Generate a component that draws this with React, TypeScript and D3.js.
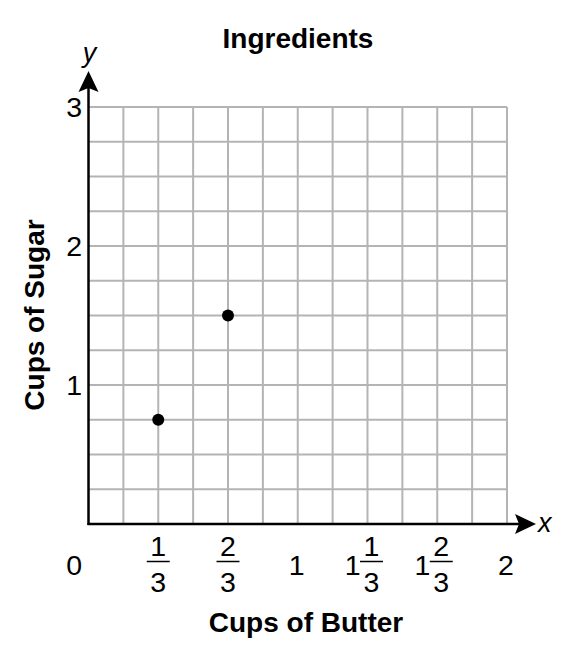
import React from "react";
import * as d3 from "d3";

const title = "Ingredients";
const xAxisTitle = "Cups of Butter";
const yAxisTitle = "Cups of Sugar";

const butter = [1 / 3, 2 / 3];
const sugar = [0.75, 1.5];

const xTickValues = [0, 1 / 3, 2 / 3, 1, 4 / 3, 5 / 3, 2];
const xTickWhole = ["0", "", "", "1", "1", "1", "2"];
const xTickNum = ["", "1", "2", "", "1", "2", ""];
const xTickDen = ["", "3", "3", "", "3", "3", ""];

const yTickValues = [1, 2, 3];
const yTickLabels = ["1", "2", "3"];

const W = 574;
const H = 652;
const FONT = "'Liberation Sans', Arial, Helvetica, sans-serif";

export default function App() {
  const x = d3.scaleLinear().domain([0, 2]).range([88.5, 507]);
  const y = d3.scaleLinear().domain([0, 3]).range([524, 107]);
  const xGrid = d3.range(1, 13).map((i) => i / 6);
  const yGrid = d3.range(1, 13).map((i) => i / 4);
  const x0 = x(0);
  const y0 = y(0);
  const grid = "#b4b4b4";
  const fs = 28.5;
  const tfs = 28;

  return (
    <svg
      width={W}
      height={H}
      style={{ position: "absolute", left: 0, top: 0, background: "#fff" }}
      fontFamily={FONT}
    >
      <rect width={W} height={H} fill="#fff" />
      <text x={298} y={48} textAnchor="middle" fontSize={tfs} fontWeight="bold">
        {title}
      </text>
      {xGrid.map((v, i) => (
        <line key={"vx" + i} x1={x(v)} x2={x(v)} y1={y(3)} y2={y0} stroke={grid} strokeWidth={2} />
      ))}
      {yGrid.map((v, i) => (
        <line key={"hy" + i} x1={x0} x2={x(2)} y1={y(v)} y2={y(v)} stroke={grid} strokeWidth={2} />
      ))}
      {/* axes */}
      <line x1={x0} x2={x0} y1={y0 + 1} y2={88} stroke="#000" strokeWidth={2.5} />
      <path d={`M${x0},71 L${x0 - 10},92 L${x0},88 L${x0 + 10},92 Z`} fill="#000" />
      <line x1={x0 - 1} x2={520} y1={y0} y2={y0} stroke="#000" strokeWidth={2.5} />
      <path d={`M536,${y0} L515,${y0 - 10} L519,${y0} L515,${y0 + 10} Z`} fill="#000" />
      <text x={x0 + 1} y={62} textAnchor="middle" fontSize={27} fontStyle="italic">
        y
      </text>
      <text x={538} y={532} fontSize={27} fontStyle="italic">
        x
      </text>
      {/* y tick labels */}
      {yTickValues.map((v, i) => (
        <text key={"yt" + i} x={82} y={y(v) + 10} textAnchor="end" fontSize={fs}>
          {yTickLabels[i]}
        </text>
      ))}
      {/* x tick labels */}
      {xTickValues.map((v, i) => {
        const cx = x(v);
        const whole = xTickWhole[i];
        const num = xTickNum[i];
        const den = xTickDen[i];
        if (v === 0) {
          return (
            <text key={"xt" + i} x={82} y={575} textAnchor="end" fontSize={fs}>
              {whole}
            </text>
          );
        }
        if (!num) {
          return (
            <text key={"xt" + i} x={cx - 1} y={575} textAnchor="middle" fontSize={fs}>
              {whole}
            </text>
          );
        }
        const fc = whole ? cx + 4 : cx;
        return (
          <g key={"xt" + i}>
            {whole && (
              <text x={fc - 11} y={575} textAnchor="end" fontSize={fs}>
                {whole}
              </text>
            )}
            <text x={fc} y={556} textAnchor="middle" fontSize={fs}>
              {num}
            </text>
            <line x1={fc - 11.5} x2={fc + 11.5} y1={561.5} y2={561.5} stroke="#000" strokeWidth={1.5} />
            <text x={fc} y={592} textAnchor="middle" fontSize={fs}>
              {den}
            </text>
          </g>
        );
      })}
      {/* points */}
      {butter.map((b, i) => (
        <circle key={"p" + i} cx={x(b)} cy={y(sugar[i])} r={6} fill="#000" />
      ))}
      <text x={306} y={632} textAnchor="middle" fontSize={tfs} fontWeight="bold">
        {xAxisTitle}
      </text>
      <text
        transform={`translate(44,315) rotate(-90)`}
        textAnchor="middle"
        fontSize={tfs}
        fontWeight="bold"
      >
        {yAxisTitle}
      </text>
    </svg>
  );
}
